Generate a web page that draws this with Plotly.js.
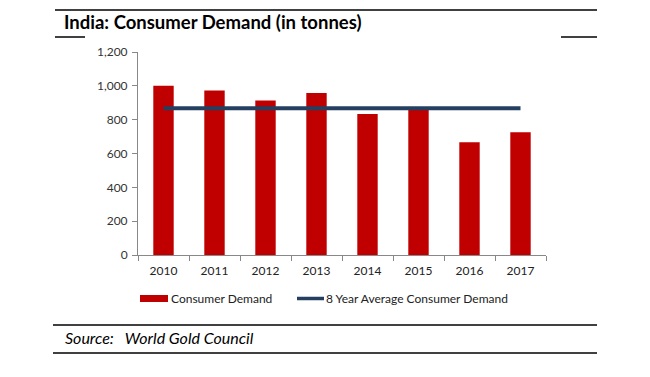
<!DOCTYPE html>
<html>
<head>
<meta charset="utf-8">
<script src="https://cdn.plot.ly/plotly-3.0.1.min.js"></script>
<style>html,body{margin:0;padding:0;background:#fff;}#chart{width:650px;height:377px;}</style>
</head>
<body>
<div id="chart"></div>
<script>
const years = ['2010','2011','2012','2013','2014','2015','2016','2017'];
const consumerDemand = [1000, 973, 914, 957, 833, 872, 666, 726];
const averageDemand = [867, 867, 867, 867, 867, 867, 867, 867];
const yTickValues = [0, 200, 400, 600, 800, 1000, 1200];
const yTickLabels = ['0', '200', '400', '600', '800', '1,000', '1,200'];
const seriesNames = ['Consumer Demand', '8 Year Average Consumer Demand'];

const FONT = 'Lato, "Open Sans", sans-serif';
const BAR_COLOR = '#C00000';
const LINE_COLOR = '#243F60';

const traces = [
  {
    type: 'bar', name: seriesNames[0], x: years, y: consumerDemand,
    marker: {color: BAR_COLOR}, showlegend: false
  },
  {
    type: 'scatter', mode: 'lines', name: seriesNames[1],
    x: years, y: averageDemand, showlegend: false,
    line: {color: LINE_COLOR, width: 4}
  }
];

const W = 650, H = 377, L = 138, R = 104, T = 52, B = 122;
const pw = W - L - R, ph = H - T - B;
const px = x => (x - L) / pw;
const py = y => (H - B - y) / ph;

const lineShape = (x0, x1, y, w, c) => ({type: 'line', xref: 'paper', yref: 'paper',
  x0: px(x0), x1: px(x1), y0: py(y), y1: py(y), line: {color: c || '#000', width: w || 1.5}});

const layout = {
  width: W, height: H,
  margin: {l: L, r: R, t: T, b: B, pad: 0},
  paper_bgcolor: '#fff', plot_bgcolor: '#fff',
  font: {family: FONT, color: '#333'},
  showlegend: false,
  bargap: 0.6,
  xaxis: {
    type: 'category', showline: true, linecolor: '#888', linewidth: 1,
    ticks: 'outside', tickson: 'boundaries', ticklen: 5, tickcolor: '#888',
    ticklabelstandoff: 5,
    tickfont: {size: 12, color: '#222', family: FONT}, showgrid: false, zeroline: false,
    fixedrange: true
  },
  yaxis: {
    range: [0, 1200], tickvals: yTickValues, ticktext: yTickLabels,
    showline: true, linecolor: '#888', linewidth: 1,
    ticks: 'outside', ticklen: 5, tickcolor: '#888',
    ticklabelstandoff: 2,
    tickfont: {size: 12, color: '#333', family: FONT}, showgrid: false, zeroline: false,
    fixedrange: true
  },
  shapes: [
    lineShape(55, 597, 10),
    lineShape(55, 85, 37),
    lineShape(561, 597, 37),
    lineShape(53, 597, 325),
    lineShape(53, 597, 353),
    // legend keys
    {type: 'rect', xref: 'paper', yref: 'paper', x0: px(140), x1: px(168), y0: py(302), y1: py(295),
      fillcolor: BAR_COLOR, line: {width: 0}},
    lineShape(297, 324, 298.5, 3.5, LINE_COLOR)
  ],
  annotations: [
    {text: '<b>India: Consumer Demand (in tonnes)</b>', xref: 'paper', yref: 'paper',
      x: px(62), y: py(22), xanchor: 'left', yanchor: 'middle', showarrow: false,
      font: {size: 18.5, color: '#000', family: FONT}},
    {text: '<i>Source:&nbsp;&nbsp; World Gold Council</i>', xref: 'paper', yref: 'paper',
      x: px(63), y: py(337), xanchor: 'left', yanchor: 'middle', showarrow: false,
      font: {size: 16, color: '#000', family: FONT}},
    {text: seriesNames[0], xref: 'paper', yref: 'paper',
      x: px(169), y: py(298.5), xanchor: 'left', yanchor: 'middle', showarrow: false,
      font: {size: 12, color: '#222', family: FONT}},
    {text: seriesNames[1], xref: 'paper', yref: 'paper',
      x: px(324), y: py(298.5), xanchor: 'left', yanchor: 'middle', showarrow: false,
      font: {size: 12, color: '#222', family: FONT}}
  ]
};

Plotly.newPlot('chart', traces, layout, {displayModeBar: false, staticPlot: true});
</script>
</body>
</html>
